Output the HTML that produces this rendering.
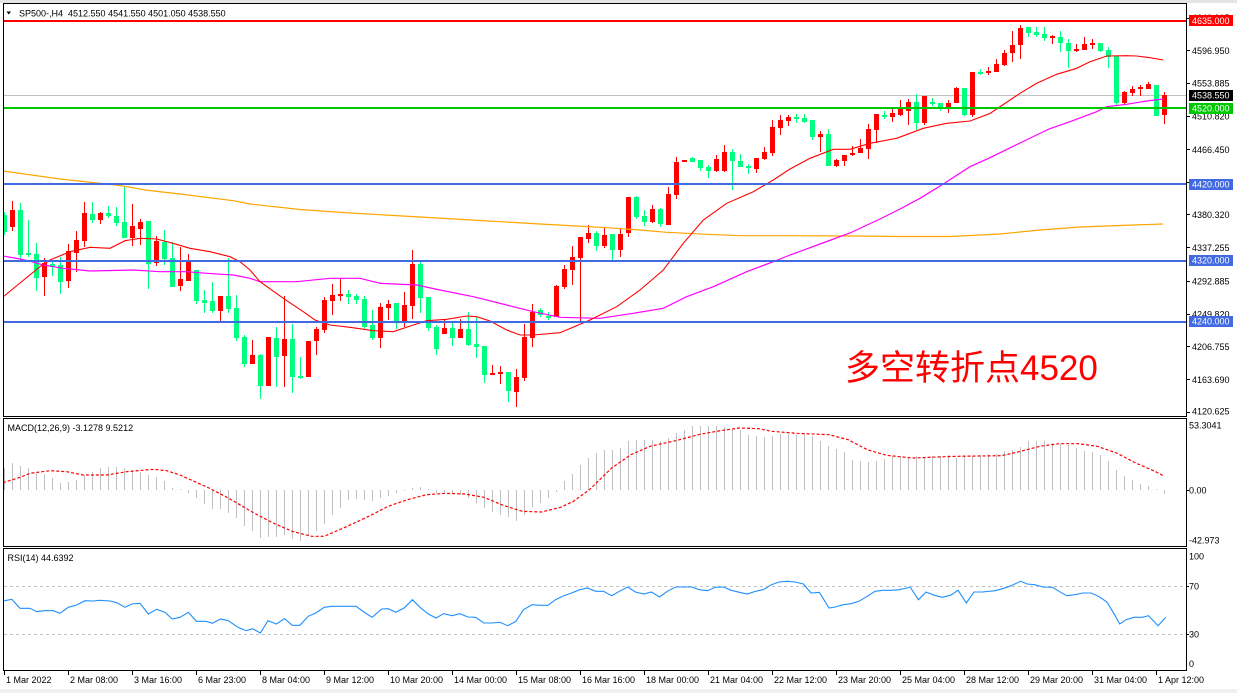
<!DOCTYPE html>
<html><head><meta charset="utf-8"><style>
html,body{margin:0;padding:0;background:#fff;}
body{width:1237px;height:693px;overflow:hidden;}
svg{display:block;}
text{font-family:"Liberation Sans","Noto Sans CJK SC",sans-serif;font-size:9px;fill:#000;}
</style></head><body>
<svg width="1237" height="693" viewBox="0 0 1237 693" xmlns="http://www.w3.org/2000/svg">
<defs>
<clipPath id="cm"><rect x="4" y="4" width="1182" height="412"/></clipPath>
<clipPath id="cd"><rect x="4" y="419" width="1182" height="127"/></clipPath>
<clipPath id="cr"><rect x="4" y="549" width="1182" height="121"/></clipPath>
</defs>
<rect width="1237" height="693" fill="#fff"/>
<rect width="1237" height="3" fill="#e4e4e4"/>
<rect y="689" width="1237" height="4" fill="#f0f0f0"/>

<!-- MAIN PANEL -->
<g clip-path="url(#cm)">
<rect x="4" y="95" width="1182" height="1" fill="#c0c0c0" shape-rendering="crispEdges"/>
<path shape-rendering="crispEdges" fill="#00ff7f" d="M4 212h1V235h-1zM2 215h5V232h-5zM20 203h1V260h-1zM18 210h5V255h-5zM28 220h1V257h-1zM26 253h5V255h-5zM36 243h1V291h-1zM34 254h5V278h-5zM52 260h1V276h-1zM50 264h5V267h-5zM60 257h1V294h-1zM58 265h5V282h-5zM92 202h1V223h-1zM90 214h5V220h-5zM108 206h1V218h-1zM106 213h5V216h-5zM116 207h1V226h-1zM114 216h5V223h-5zM124 186h1V238h-1zM122 222h5V238h-5zM148 221h1V289h-1zM146 221h5V264h-5zM164 230h1V265h-1zM162 242h5V259h-5zM172 242h1V287h-1zM170 258h5V287h-5zM196 270h1V304h-1zM194 270h5V301h-5zM204 290h1V313h-1zM202 300h5V303h-5zM212 282h1V313h-1zM210 301h5V311h-5zM228 258h1V313h-1zM226 296h5V309h-5zM236 295h1V341h-1zM234 308h5V338h-5zM244 335h1V367h-1zM242 337h5V364h-5zM260 354h1V399h-1zM258 355h5V386h-5zM276 327h1V387h-1zM274 338h5V357h-5zM292 324h1V393h-1zM290 339h5V377h-5zM300 357h1V379h-1zM298 376h5V378h-5zM348 290h1V304h-1zM346 294h5V297h-5zM356 294h1V304h-1zM354 296h5V300h-5zM364 296h1V329h-1zM362 299h5V327h-5zM372 310h1V340h-1zM370 325h5V338h-5zM396 303h1V329h-1zM394 303h5V321h-5zM420 262h1V313h-1zM418 264h5V298h-5zM428 297h1V331h-1zM426 297h5V328h-5zM436 325h1V355h-1zM434 327h5V349h-5zM452 323h1V346h-1zM450 328h5V338h-5zM468 312h1V346h-1zM466 329h5V345h-5zM476 317h1V358h-1zM474 344h5V347h-5zM484 346h1V383h-1zM482 346h5V375h-5zM508 372h1V402h-1zM506 372h5V391h-5zM540 308h1V317h-1zM538 310h5V315h-5zM548 312h1V320h-1zM546 316h5V318h-5zM596 231h1V251h-1zM594 233h5V246h-5zM612 234h1V260h-1zM610 234h5V250h-5zM636 196h1V219h-1zM634 197h5V217h-5zM644 210h1V226h-1zM642 216h5V222h-5zM660 208h1V227h-1zM658 209h5V224h-5zM692 157h1V162h-1zM690 158h5V162h-5zM700 160h1V171h-1zM698 160h5V168h-5zM708 165h1V178h-1zM706 167h5V171h-5zM732 149h1V190h-1zM730 152h5V161h-5zM740 154h1V167h-1zM738 161h5V167h-5zM748 164h1V174h-1zM746 166h5V168h-5zM796 114h1V123h-1zM794 117h5V119h-5zM804 114h1V123h-1zM802 118h5V122h-5zM812 120h1V140h-1zM810 120h5V137h-5zM828 129h1V166h-1zM826 134h5V166h-5zM884 111h1V119h-1zM882 115h5V117h-5zM916 94h1V130h-1zM914 102h5V123h-5zM932 98h1V106h-1zM930 102h5V104h-5zM940 103h1V111h-1zM938 103h5V108h-5zM964 88h1V116h-1zM962 88h5V115h-5zM980 69h1V75h-1zM978 72h5V74h-5zM1028 27h1V37h-1zM1026 27h5V33h-5zM1036 27h1V37h-1zM1034 32h5V35h-5zM1044 27h1V41h-1zM1042 34h5V38h-5zM1060 31h1V52h-1zM1058 37h5V43h-5zM1068 39h1V68h-1zM1066 43h5V51h-5zM1100 43h1V52h-1zM1098 43h5V51h-5zM1108 47h1V68h-1zM1106 50h5V57h-5zM1116 56h1V105h-1zM1114 56h5V103h-5zM1156 85h1V116h-1zM1154 85h5V116h-5z"/>
<path shape-rendering="crispEdges" fill="#ff0000" d="M12 201h1V231h-1zM10 210h5V227h-5zM44 258h1V296h-1zM42 263h5V277h-5zM68 244h1V288h-1zM66 251h5V281h-5zM76 231h1V272h-1zM74 240h5V253h-5zM84 202h1V247h-1zM82 213h5V241h-5zM100 212h1V224h-1zM98 213h5V220h-5zM132 204h1V246h-1zM130 226h5V238h-5zM140 219h1V245h-1zM138 222h5V229h-5zM156 236h1V266h-1zM154 241h5V263h-5zM180 247h1V291h-1zM178 279h5V286h-5zM188 254h1V281h-1zM186 262h5V281h-5zM220 296h1V323h-1zM218 296h5V311h-5zM252 340h1V364h-1zM250 355h5V364h-5zM268 337h1V386h-1zM266 337h5V386h-5zM284 296h1V387h-1zM282 339h5V356h-5zM308 341h1V377h-1zM306 341h5V377h-5zM316 327h1V355h-1zM314 329h5V341h-5zM324 297h1V333h-1zM322 300h5V330h-5zM332 284h1V315h-1zM330 295h5V301h-5zM340 278h1V301h-1zM338 294h5V296h-5zM380 303h1V348h-1zM378 307h5V338h-5zM388 300h1V320h-1zM386 304h5V308h-5zM404 292h1V327h-1zM402 305h5V321h-5zM412 250h1V319h-1zM410 264h5V306h-5zM444 320h1V334h-1zM442 328h5V334h-5zM460 319h1V338h-1zM458 329h5V338h-5zM492 365h1V374h-1zM490 373h5V375h-5zM500 366h1V384h-1zM498 372h5V374h-5zM516 369h1V407h-1zM514 377h5V392h-5zM524 324h1V381h-1zM522 337h5V378h-5zM532 304h1V347h-1zM530 312h5V338h-5zM556 285h1V317h-1zM554 286h5V317h-5zM564 265h1V289h-1zM562 269h5V287h-5zM572 246h1V285h-1zM570 257h5V270h-5zM580 237h1V321h-1zM578 237h5V258h-5zM588 225h1V243h-1zM586 233h5V239h-5zM604 228h1V248h-1zM602 235h5V246h-5zM620 228h1V257h-1zM618 234h5V250h-5zM628 197h1V237h-1zM626 197h5V233h-5zM652 205h1V223h-1zM650 209h5V222h-5zM668 187h1V225h-1zM666 194h5V225h-5zM676 157h1V199h-1zM674 162h5V195h-5zM682 160h5V162h-5zM716 155h1V172h-1zM714 159h5V171h-5zM724 145h1V172h-1zM722 152h5V171h-5zM756 158h1V173h-1zM754 158h5V169h-5zM764 147h1V160h-1zM762 152h5V159h-5zM772 120h1V156h-1zM770 127h5V153h-5zM780 115h1V135h-1zM778 120h5V128h-5zM788 115h1V126h-1zM786 117h5V121h-5zM820 131h1V152h-1zM818 134h5V137h-5zM836 159h1V167h-1zM834 160h5V166h-5zM844 155h1V166h-1zM842 155h5V161h-5zM852 146h1V156h-1zM850 153h5V155h-5zM860 139h1V153h-1zM858 148h5V153h-5zM868 124h1V159h-1zM866 129h5V149h-5zM876 114h1V143h-1zM874 114h5V130h-5zM892 107h1V122h-1zM890 113h5V117h-5zM900 100h1V116h-1zM898 109h5V115h-5zM908 99h1V125h-1zM906 102h5V111h-5zM924 96h1V125h-1zM922 96h5V123h-5zM948 100h1V113h-1zM946 103h5V107h-5zM956 87h1V103h-1zM954 88h5V103h-5zM972 72h1V117h-1zM970 72h5V115h-5zM988 67h1V75h-1zM986 71h5V73h-5zM996 59h1V72h-1zM994 64h5V72h-5zM1004 50h1V66h-1zM1002 53h5V65h-5zM1012 31h1V62h-1zM1010 45h5V53h-5zM1020 25h1V59h-1zM1018 28h5V45h-5zM1052 35h1V44h-1zM1050 36h5V38h-5zM1076 44h1V52h-1zM1074 49h5V51h-5zM1084 37h1V50h-1zM1082 44h5V50h-5zM1092 39h1V49h-1zM1090 43h5V45h-5zM1124 91h1V104h-1zM1122 92h5V103h-5zM1132 86h1V96h-1zM1130 89h5V93h-5zM1140 85h1V96h-1zM1138 87h5V89h-5zM1148 82h1V89h-1zM1146 84h5V89h-5zM1164 92h1V124h-1zM1162 95h5V115h-5z"/>
<polyline fill="none" stroke="#ffa500" stroke-width="1.2" points="3,171 60,179 120,185.5 145,190 180,194 233.3,200.7 250,204 300,209.5 350,213 420,217 480,220.5 540,224 576.7,226 606.7,227.7 640,230 666.7,232.3 706.7,234.3 740,235.7 790,235.7 850,236 900,236.5 950,236.5 1000,234 1040,230 1080,227 1120,225.5 1163,224"/>
<polyline fill="none" stroke="#ff00ff" stroke-width="1.2" points="3,256 20,259 31.7,261.7 43.3,265 63.3,268.3 90,271 133.3,270 160,271.7 186.7,271.7 206.7,273.3 233.3,275 250,278.3 260,281.7 296.7,281.7 330,278.3 360,278.3 380,283.3 416.7,285 440,290 473.3,296.7 506.7,305 533.3,311.7 560,317.3 600,318.3 633.3,313.3 663.3,308.3 686.7,296.7 713.3,286.7 746.7,271.7 773.3,261.7 790,255 820,244 850,233 880,219 900,209 920,198.3 943.3,184 970,166.7 990,157.7 1020,143 1049,129 1070,121.7 1096.7,111.7 1106.7,106.7 1126.7,104.3 1146.7,101 1163.3,99"/>
<polyline fill="none" stroke="#ff0000" stroke-width="1.1" points="3,297 20,283 40,266.7 50,260 70,251.7 90,247.3 110,248.3 125,240.7 140,238.3 156.7,239 173,243.3 190,248.3 210,251.7 230,256.7 240,261.7 250,270 260,281.7 283.3,298.3 303.3,311.7 315,320 330,325 350,327.3 373.3,330.7 393.3,331.7 413.3,325 426.7,320.7 446.7,319.3 466.7,316 476.7,316.7 490,321 506.7,330 520,335 533.3,335 560,332.7 568.3,329.3 590,320 616.7,306.7 640,290 663.3,270 683.3,243.3 703.3,220 726.7,203.3 753.3,191.7 773.3,180 790,169 810,158.3 833.3,149.3 850,149.3 870,143.3 896.7,138.3 923.3,128.3 946.7,123.3 970,121 990,113.5 1020,93.3 1036.7,83.3 1056.7,74.3 1076.7,68.3 1090,61.7 1106.7,56 1126.7,55.7 1136.7,56 1150,57.7 1163.3,60"/>
<g shape-rendering="crispEdges">
<rect x="4" y="20" width="1182" height="2" fill="#ff0000"/>
<rect x="4" y="107" width="1182" height="2" fill="#00c800"/>
<rect x="4" y="183" width="1182" height="2" fill="#4169e1"/>
<rect x="4" y="260" width="1182" height="2" fill="#4169e1"/>
<rect x="4" y="321" width="1182" height="2" fill="#4169e1"/>
</g>
</g>
<text x="845" y="380" style="font-size:35px;fill:#ff0000;">多空转折点4520</text>

<!-- header -->
<polygon points="6.5,11.5 11,11.5 8.75,14.5" fill="#000"/>
<text x="19" y="16.5">SP500-,H4&#160; 4512.550 4541.550 4501.050 4538.550</text>

<!-- MACD PANEL -->
<g clip-path="url(#cd)">
<path fill="none" stroke="#c0c0c0" stroke-width="1" shape-rendering="crispEdges" d="M4.5 490V468M12.5 490V463M20.5 490V466M28.5 490V468M36.5 490V474M44.5 490V474M52.5 490V478M60.5 490V483M68.5 490V482M76.5 490V480M84.5 490V475M92.5 490V472M100.5 490V468M108.5 490V467M116.5 490V467M124.5 490V468M132.5 490V470M140.5 490V472M148.5 490V475M156.5 490V477M164.5 490V481M172.5 490V488M180.5 490V489M188.5 490V493M196.5 490V498M204.5 490V504M212.5 490V509M220.5 490V509M228.5 490V513M236.5 490V518M244.5 490V526M252.5 490V531M260.5 490V538M268.5 490V537M276.5 490V537M284.5 490V535M292.5 490V539M300.5 490V541M308.5 490V536M316.5 490V531M324.5 490V524M332.5 490V515M340.5 490V508M348.5 490V500M356.5 490V499M364.5 490V500M372.5 490V501M380.5 490V498M388.5 490V496M396.5 490V493M404.5 490V491M412.5 490V488M420.5 490V487M428.5 490V489M436.5 490V493M444.5 490V492M452.5 490V493M460.5 490V495M468.5 490V498M476.5 490V503M484.5 490V508M492.5 490V512M500.5 490V515M508.5 490V517M516.5 490V521M524.5 490V515M532.5 490V507M540.5 490V503M548.5 490V498M556.5 490V492M564.5 490V481M572.5 490V474M580.5 490V465M588.5 490V458M596.5 490V453M604.5 490V450M612.5 490V450M620.5 490V448M628.5 490V441M636.5 490V440M644.5 490V440M652.5 490V440M660.5 490V441M668.5 490V438M676.5 490V433M684.5 490V430M692.5 490V426M700.5 490V426M708.5 490V426M716.5 490V426M724.5 490V427M732.5 490V429M740.5 490V430M748.5 490V435M756.5 490V436M764.5 490V437M772.5 490V436M780.5 490V434M788.5 490V434M796.5 490V435M804.5 490V434M812.5 490V436M820.5 490V441M828.5 490V446M836.5 490V449M844.5 490V452M852.5 490V460M860.5 490V461M868.5 490V462M876.5 490V461M884.5 490V459M892.5 490V456M900.5 490V457M908.5 490V457M916.5 490V456M924.5 490V457M932.5 490V456M940.5 490V456M948.5 490V455M956.5 490V458M964.5 490V455M972.5 490V456M980.5 490V455M988.5 490V454M996.5 490V454M1004.5 490V451M1012.5 490V450M1020.5 490V447M1028.5 490V441M1036.5 490V441M1044.5 490V441M1052.5 490V443M1060.5 490V444M1068.5 490V445M1076.5 490V448M1084.5 490V451M1092.5 490V452M1100.5 490V455M1108.5 490V461M1116.5 490V470M1124.5 490V476M1132.5 490V480M1140.5 490V484M1148.5 490V486M1156.5 490V489M1164.5 490V494"/>
<polyline fill="none" stroke="#ff0000" stroke-width="1.2" stroke-dasharray="3 2" points="3,482.7 20,477.3 30,473.3 50,470.7 66.7,471.7 83.3,475 106.7,475 126.7,471.7 153.3,469.3 166.7,470.7 180,475 190,479.5 209,488 228.3,498 253.9,513 273.1,523 292.2,531.3 311.4,536.3 324.2,536.3 343.4,528 368.9,516.3 388.1,506.3 407.3,499.7 426.4,494.7 445.6,493.3 464.8,494 483.9,497.3 503.1,505.3 522.3,511.3 541.4,512 560.6,507.3 573.4,501.3 589.4,489.7 611.7,468 630.9,454.7 650.1,446.3 675.6,440.7 701.2,434 720.4,430.7 739.5,428 758.7,428.7 771.5,431.3 797,433.3 829,434.7 848.2,439.7 867.3,449.7 886.5,455.3 912.1,458 937.6,457 956.8,456.3 1001.5,455.7 1020.7,451.3 1039.8,446.3 1059,443.7 1078.2,443.7 1097.3,446.3 1116.5,453 1135.7,463 1154.8,471.3 1164.4,476.3"/>
</g>
<text x="7.5" y="431">MACD(12,26,9) -3.1278 9.5212</text>

<!-- RSI PANEL -->
<g clip-path="url(#cr)">
<g stroke="#c0c0c0" stroke-width="1" stroke-dasharray="3 3" shape-rendering="crispEdges">
<line x1="4" y1="586.5" x2="1186" y2="586.5"/>
<line x1="4" y1="634.5" x2="1186" y2="634.5"/>
</g>
<polyline fill="none" stroke="#1e90ff" stroke-width="1.1" points="3.3,601 11.7,599.3 20,608.3 30,608.3 36.7,611.7 43.3,610.7 53.3,610.7 60,613.3 68.3,607.3 76.7,605 85,600.7 93.3,601 100,600.3 110,601 116.7,602.7 125,607.3 131.7,604 140,603.3 148.3,614 156.7,609.3 165,612.3 172.3,619 180,617.3 188.3,612.3 196.4,621.3 206,621.3 212.4,623.3 220.7,619 228.3,620.7 237.9,627.3 246.2,630.7 252.6,628.7 260.3,633 268,620.7 276.3,624 284.6,618.7 292.2,625.3 299.9,625.3 308.2,616.3 315.9,613 324.2,607.3 331.9,606.3 356.1,606.3 363.8,612 372.1,617.3 381.7,609 388.1,608.7 395.8,612.3 404.1,608 412.4,599.7 420,607.3 428.3,614 436,618 443.7,613.7 452,615.7 459.7,613.7 468,617 475.6,617.3 483.9,623 491.6,623 499.9,622.3 507.6,625.7 515.9,621.3 523.5,609.7 532.2,604.7 539.5,605.3 547.8,605.3 555.5,599.7 563.8,595.7 571.5,593 579.8,589.7 587.4,588 595.8,591.3 603.4,591.3 611.7,595.7 619.4,591.3 627.7,587 635.4,592 643.7,594 651.3,592 659.6,597 667.3,591.3 675.6,587 691.6,587 699.3,589.7 707.6,590.7 715.2,587.3 723.5,587 731.2,590.3 739.5,592.3 747.2,594 755.5,591.3 763.2,589.7 771.5,584.7 779.1,582 787.4,581.3 795.1,582 803.4,584 811,593 819.4,592.3 829,608 835.4,607 843,604.7 851.3,603.7 858.9,601.3 867.3,596.3 875,591.3 883.3,590.3 891,590.3 899.3,589.7 906.9,588 910.1,587 918.4,599.7 926.1,592 934.4,595.3 942.1,597.3 950.4,595.3 958.1,590.3 966.3,603 974,592 982.3,592 995.1,590.7 1002.8,588.7 1011.1,585.7 1020.7,581.3 1027.1,584 1034.7,584.7 1043,587 1052.6,587.3 1059,591.3 1066.7,595.7 1075,594.7 1082.6,593 1090.9,593 1098.6,596.3 1106.9,602 1114.6,614.7 1119.7,624 1126.1,619.7 1133.8,617.3 1142.1,617.3 1148.5,615.7 1158.1,625.7 1165.7,617.3"/>
</g>
<text x="7.5" y="561">RSI(14) 44.6392</text>

<!-- frames -->
<g fill="none" stroke="#000" stroke-width="1" shape-rendering="crispEdges">
<rect x="3.5" y="3.5" width="1183" height="413"/>
<rect x="3.5" y="418.5" width="1183" height="128"/>
<rect x="3.5" y="548.5" width="1183" height="122"/>
<path d="M1186 18.5h4M1186 50.5h4M1186 83.5h4M1186 116.5h4M1186 149.5h4M1186 182.5h4M1186 214.5h4M1186 247.5h4M1186 281.5h4M1186 314.5h4M1186 346.5h4M1186 379.5h4M1186 412.5h4M1186 490.5h3M1186 586.5h3M1186 634.5h3"/>
<path d="M4.5 671v4M68.5 671v4M132.5 671v4M196.5 671v4M260.5 671v4M324.5 671v4M388.5 671v4M452.5 671v4M516.5 671v4M580.5 671v4M644.5 671v4M708.5 671v4M772.5 671v4M836.5 671v4M900.5 671v4M964.5 671v4M1028.5 671v4M1092.5 671v4M1156.5 671v4"/>
</g>

<!-- right axis labels main -->
<text x="1192" y="21.2">4640.015</text>
<text x="1192" y="53.9">4596.950</text>
<text x="1192" y="86.7">4553.885</text>
<text x="1192" y="119.4">4510.820</text>
<text x="1192" y="153.1">4466.450</text>
<text x="1192" y="185.4">4423.385</text>
<text x="1192" y="218.1">4380.320</text>
<text x="1192" y="250.9">4337.255</text>
<text x="1192" y="284.6">4292.885</text>
<text x="1192" y="317.3">4249.820</text>
<text x="1192" y="350">4206.755</text>
<text x="1192" y="382.8">4163.690</text>
<text x="1192" y="414.5">4120.625</text>

<g shape-rendering="crispEdges">
<rect x="1189" y="15" width="44" height="11" fill="#ff0000"/>
<rect x="1189" y="90" width="44" height="11" fill="#000"/>
<rect x="1189" y="103" width="44" height="11" fill="#00c800"/>
<rect x="1189" y="179" width="44" height="11" fill="#4169e1"/>
<rect x="1189" y="255" width="44" height="11" fill="#4169e1"/>
<rect x="1189" y="316" width="44" height="11" fill="#4169e1"/>
</g>
<text x="1192" y="23.8" style="fill:#fff">4635.000</text>
<text x="1192" y="98.7" style="fill:#fff">4538.550</text>
<text x="1192" y="111.7" style="fill:#fff">4520.000</text>
<text x="1192" y="187.7" style="fill:#fff">4420.000</text>
<text x="1192" y="263.7" style="fill:#fff">4320.000</text>
<text x="1192" y="324.7" style="fill:#fff">4240.000</text>

<!-- MACD axis -->
<text x="1189" y="428.5">53.3041</text>
<text x="1189" y="493.5">0.00</text>
<text x="1189" y="543.5">-42.973</text>
<!-- RSI axis -->
<text x="1189" y="559.5">100</text>
<text x="1189" y="589.5">70</text>
<text x="1189" y="637.5">30</text>
<text x="1189" y="667">0</text>

<!-- time axis -->
<text x="6" y="683">1 Mar 2022</text>
<text x="70" y="683">2 Mar 08:00</text>
<text x="134" y="683">3 Mar 16:00</text>
<text x="198" y="683">6 Mar 23:00</text>
<text x="262" y="683">8 Mar 04:00</text>
<text x="326" y="683">9 Mar 12:00</text>
<text x="390" y="683">10 Mar 20:00</text>
<text x="454" y="683">14 Mar 00:00</text>
<text x="518" y="683">15 Mar 08:00</text>
<text x="582" y="683">16 Mar 16:00</text>
<text x="646" y="683">18 Mar 00:00</text>
<text x="710" y="683">21 Mar 04:00</text>
<text x="774" y="683">22 Mar 12:00</text>
<text x="838" y="683">23 Mar 20:00</text>
<text x="902" y="683">25 Mar 04:00</text>
<text x="966" y="683">28 Mar 12:00</text>
<text x="1030" y="683">29 Mar 20:00</text>
<text x="1094" y="683">31 Mar 04:00</text>
<text x="1158" y="683">1 Apr 12:00</text>
</svg>
</body></html>
